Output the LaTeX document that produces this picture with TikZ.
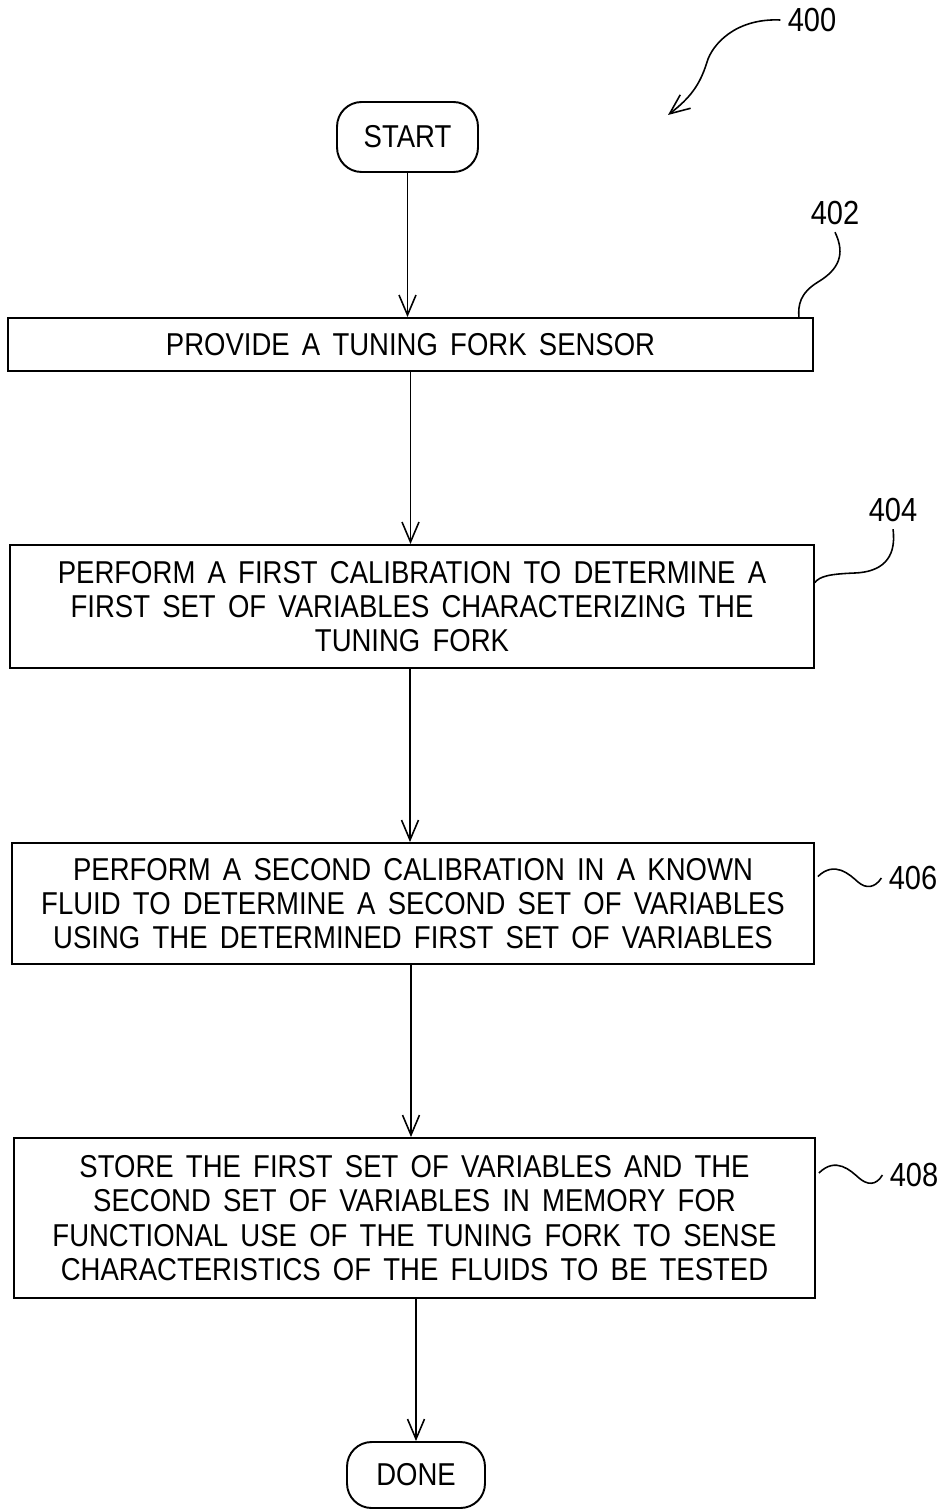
\documentclass[tikz,border=0pt]{standalone}
\usepackage{fontspec}
\setmainfont{Liberation Sans}[WordSpace=1.6, FakeStretch=0.87]
\usetikzlibrary{arrows.meta, positioning, calc}

\begin{document}
\begin{tikzpicture}[
    x=0.02cm, y=-0.02cm,
    every node/.style={font=\fontsize{18}{19.5}\selectfont},
    >={Straight Barb[length=4mm, width=3.4mm]},
    stepbox/.style={draw, line width=1.1pt, align=center, inner sep=0pt},
    terminal/.style={draw, line width=1.1pt, rounded corners=14pt, inner sep=0pt},
    flow/.style={->, line width=0.9pt},
    leader/.style={line width=0.9pt},
    reflabel/.style={font=\fontsize{19}{20}\selectfont, inner sep=4pt},
]
\useasboundingbox (0,0) rectangle (943,1510);

% === Terminals ===
\node[terminal, minimum width=2.82cm, minimum height=1.4cm] (start) at (407.5,137) {START};
\node[terminal, minimum width=2.76cm, minimum height=1.32cm] (done) at (416,1475) {DONE};

% === Steps ===
\node[stepbox, minimum width=16.1cm, minimum height=1.06cm] (s402) at (410.5,344.5)
      {PROVIDE A TUNING FORK SENSOR};
\node[stepbox, minimum width=16.08cm, minimum height=2.46cm] (s404) at (412,606.5)
      {PERFORM A FIRST CALIBRATION TO DETERMINE A\\FIRST SET OF VARIABLES CHARACTERIZING THE\\TUNING FORK};
\node[stepbox, minimum width=16.04cm, minimum height=2.42cm] (s406) at (413,903.5)
      {PERFORM A SECOND CALIBRATION IN A KNOWN\\FLUID TO DETERMINE A SECOND SET OF VARIABLES\\USING THE DETERMINED FIRST SET OF VARIABLES};
\node[stepbox, minimum width=16.02cm, minimum height=3.2cm] (s408) at (414.5,1218)
      {STORE THE FIRST SET OF VARIABLES AND THE\\SECOND SET OF VARIABLES IN MEMORY FOR\\FUNCTIONAL USE OF THE TUNING FORK TO SENSE\\CHARACTERISTICS OF THE FLUIDS TO BE TESTED};

% === Reference numerals ===
\node[reflabel] (n400) at (812,20) {400};
\node[reflabel] (n402) at (835,213) {402};
\node[reflabel] (n404) at (893,510) {404};
\node[reflabel] (n406) at (913,878) {406};
\node[reflabel] (n408) at (914,1175) {408};

% === Flow arrows ===
\draw[flow] (start.south) -- (start.south |- s402.north);
\draw[flow] (s402.south) -- (s402.south |- s404.north);
\draw[flow] (s404.south -| 410,0) -- (s406.north -| 410,0);
\draw[flow] (s406.south -| 411,0) -- (s408.north -| 411,0);
\draw[flow] (s408.south -| done.north) -- (done.north);

% === Leader lines ===
\draw[leader, ->] (n400.west) .. controls (735,18) and (712,45) .. (707,62)
      .. controls (700,85) and (690,98) .. (668,115);
\draw[leader] (n402.south) .. controls (846,255) and (838,270) .. (818,282)
      .. controls (800,293) and (798,305) .. ($(s402.north east)+(-15,0)$);
\draw[leader] (n404.south) .. controls (897,560) and (880,572) .. (855,573)
      .. controls (830,574) and (820,576) .. ($(s404.east)+(0,-24)$);
\draw[leader] ($(s406.east)+(3,-27)$) .. controls (835,860) and (850,875) .. (858,882)
      .. controls (866,889) and (875,888) .. (n406.west);
\draw[leader] ($(s408.east)+(3,-45)$) .. controls (836,1156) and (851,1171) .. (859,1178)
      .. controls (867,1185) and (876,1186) .. (n408.west);

\end{tikzpicture}
\end{document}
